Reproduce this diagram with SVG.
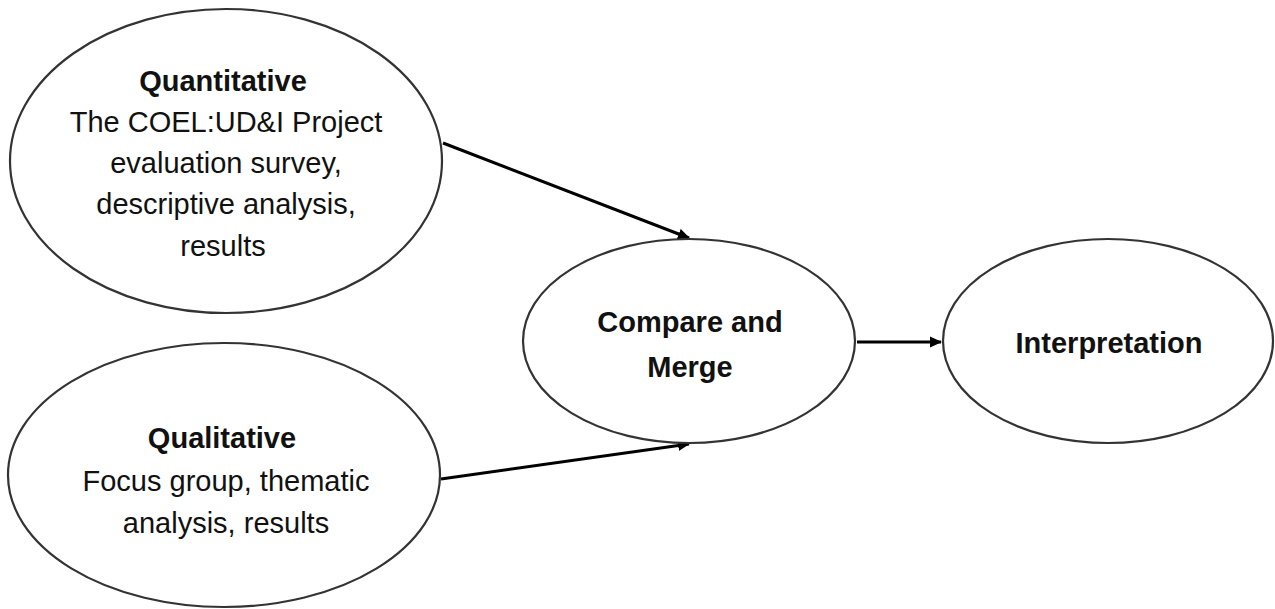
<svg xmlns="http://www.w3.org/2000/svg" width="1275" height="609" viewBox="0 0 1275 609">
<style>
.n{fill:#fff;stroke:#333;stroke-width:2.2}
.t{font-family:"Liberation Sans",Arial,sans-serif;font-size:29px;fill:#111;text-anchor:middle}
.b{font-weight:bold}
.c{stroke:#000;stroke-width:3;fill:none}
</style>
<defs>
<marker id="ah" markerWidth="12" markerHeight="12" refX="11" refY="6" orient="auto" markerUnits="userSpaceOnUse">
<path d="M0,0.5 L12,6 L0,11.5 Z" fill="#000"/>
</marker>
</defs>
<rect width="1275" height="609" fill="#fff"/>
<g id="connectors">
<line class="c" x1="443" y1="143" x2="689" y2="238" marker-end="url(#ah)"/>
<line class="c" x1="441" y1="479" x2="689" y2="444" marker-end="url(#ah)"/>
<line class="c" x1="857" y1="342" x2="941" y2="342" marker-end="url(#ah)"/>
</g>
<g id="quantitative">
<ellipse class="n" cx="226" cy="161" rx="216" ry="152"/>
<text class="t b" x="223" y="91">Quantitative</text>
<text class="t" x="226" y="132">The COEL:UD&amp;I Project</text>
<text class="t" x="226" y="173">evaluation survey,</text>
<text class="t" x="226" y="214">descriptive analysis,</text>
<text class="t" x="223" y="256">results</text>
</g>
<g id="qualitative">
<ellipse class="n" cx="224" cy="475" rx="216" ry="132"/>
<text class="t b" x="222" y="448">Qualitative</text>
<text class="t" x="226" y="491">Focus group, thematic</text>
<text class="t" x="226" y="533">analysis, results</text>
</g>
<g id="compare">
<ellipse class="n" cx="689" cy="341" rx="166" ry="102"/>
<text class="t b" x="690" y="332" font-size="30">Compare and</text>
<text class="t b" x="690" y="377">Merge</text>
</g>
<g id="interpretation">
<ellipse class="n" cx="1108" cy="341" rx="165" ry="102"/>
<text class="t b" x="1109" y="353">Interpretation</text>
</g>
</svg>
